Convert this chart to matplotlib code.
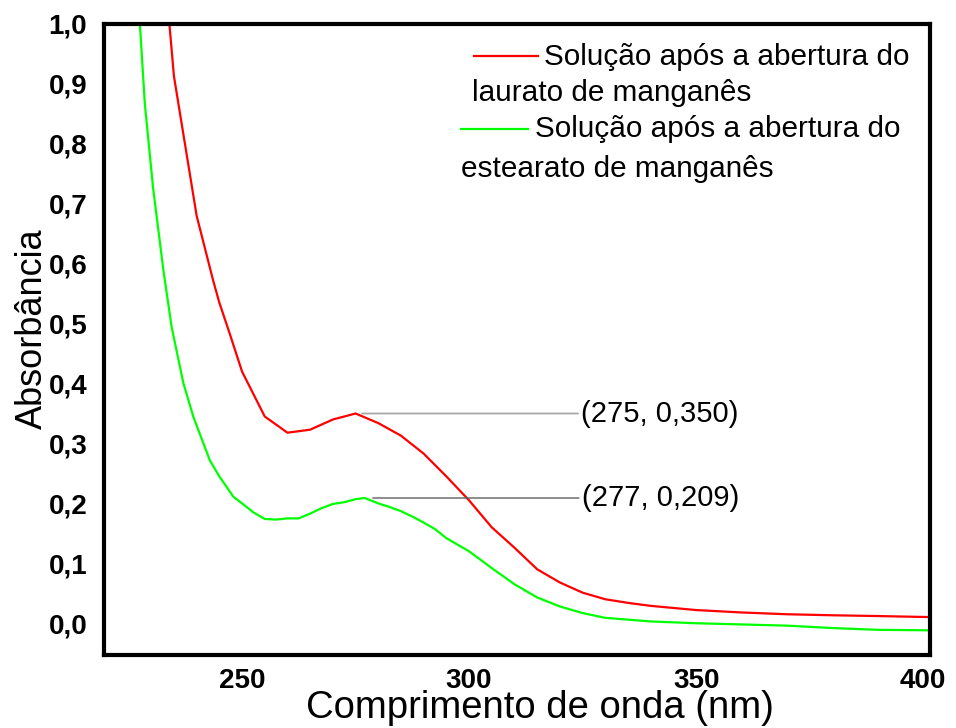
import matplotlib
matplotlib.use("Agg")
import matplotlib.pyplot as plt

# Solução após a abertura do laurato de manganês (red)
wl_laurato = [234, 235, 240, 243.6, 245, 247.3, 250, 255, 260, 265, 270, 275, 280, 285,
              290, 295, 300, 305, 310, 315, 320, 325, 330, 335, 340, 350, 360, 370, 380,
              390, 400, 401.5]
abs_laurato = [1.0, 0.913, 0.680, 0.573, 0.535, 0.483, 0.420, 0.345, 0.318, 0.323, 0.340,
               0.350, 0.334, 0.313, 0.283, 0.245, 0.205, 0.160, 0.126, 0.090, 0.068, 0.051,
               0.040, 0.034, 0.029, 0.022, 0.018, 0.015, 0.0133, 0.012, 0.0105, 0.0103]

# Solução após a abertura do estearato de manganês (green)
wl_estearato = [227.5, 228.6, 230.4, 232.7, 234.5, 237.1, 239.3, 242.9, 245, 248.1, 250,
                252.5, 255, 257.5, 260, 262.5, 265, 267.5, 270, 272.5, 275, 277, 280, 282.5,
                285, 287.5, 290, 292.5, 295, 297.5, 300, 305, 310, 315, 320, 325, 330, 335,
                340, 350, 360, 370, 380, 390, 400, 401.5]
abs_estearato = [1.0, 0.866, 0.727, 0.588, 0.494, 0.400, 0.344, 0.272, 0.245, 0.211, 0.200,
                 0.185, 0.174, 0.173, 0.175, 0.175, 0.183, 0.192, 0.199, 0.202, 0.207, 0.209,
                 0.200, 0.194, 0.187, 0.178, 0.168, 0.157, 0.142, 0.131, 0.120, 0.092, 0.065,
                 0.043, 0.028, 0.017, 0.009, 0.006, 0.003, 0.000, -0.002, -0.004, -0.008,
                 -0.011, -0.0117, -0.012]

xticks = [250, 300, 350, 400]
yticks = [0.0, 0.1, 0.2, 0.3, 0.4, 0.5, 0.6, 0.7, 0.8, 0.9, 1.0]

plt.rcParams['font.family'] = ['Liberation Sans', 'DejaVu Sans']

fig = plt.figure(figsize=(9.56, 7.28), dpi=100)
ax = fig.add_axes([104/956, 73/728, 826/956, 631/728])

ax.plot(wl_laurato, abs_laurato, color="#ff0000", lw=1.6)
ax.plot(wl_estearato, abs_estearato, color="#00ff00", lw=1.6)

ax.set_xlim(219.6, 401.5)
ax.set_ylim(-0.053, 1.0)

# peak annotations
ax.annotate("(275, 0,350)", xy=(276.4, 0.350), xytext=(324.6, 0.350),
            va="center", ha="left", fontsize=21,
            arrowprops=dict(arrowstyle="-", color="#a8a8a8", lw=1.3, shrinkA=0, shrinkB=0))
ax.annotate("(277, 0,209)", xy=(278.8, 0.209), xytext=(324.8, 0.209),
            va="center", ha="left", fontsize=21,
            arrowprops=dict(arrowstyle="-", color="#606060", lw=1.0, shrinkA=0, shrinkB=0))

# hand-made legend (text wraps back under the handle)
fs_leg = 21.4
ax.plot([0.448, 0.526], [0.950, 0.950], color="#ff0000", lw=1.6, transform=ax.transAxes)
ax.text(0.533, 0.935, "Solução após a abertura do", transform=ax.transAxes,
        fontsize=fs_leg, va="baseline")
ax.text(0.446, 0.878, "laurato de manganês", transform=ax.transAxes,
        fontsize=fs_leg, va="baseline")
ax.plot([0.432, 0.513], [0.834, 0.834], color="#00ff00", lw=1.6, transform=ax.transAxes)
ax.text(0.522, 0.821, "Solução após a abertura do", transform=ax.transAxes,
        fontsize=fs_leg, va="baseline")
ax.text(0.432, 0.758, "estearato de manganês", transform=ax.transAxes,
        fontsize=fs_leg, va="baseline")

ax.set_xticks(xticks)
ax.set_xticklabels([str(t) for t in xticks], fontweight="bold", fontsize=20)
ax.set_yticks(yticks)
ax.set_yticklabels([f"{t:.1f}".replace(".", ",") for t in yticks], fontweight="bold", fontsize=20)
ax.tick_params(axis="x", length=0, pad=9)
ax.tick_params(axis="y", length=0, pad=12)

for s in ax.spines.values():
    s.set_linewidth(3)

ax.set_xlabel("Comprimento de onda (nm)", fontsize=27.5)
ax.xaxis.label.set_va("baseline")
ax.xaxis.set_label_coords(0.528, -0.100)
ax.set_ylabel("Absorbância", fontsize=26)
ax.yaxis.set_label_coords(-0.066, 0.517)

fig.savefig("out.png", dpi=100)
